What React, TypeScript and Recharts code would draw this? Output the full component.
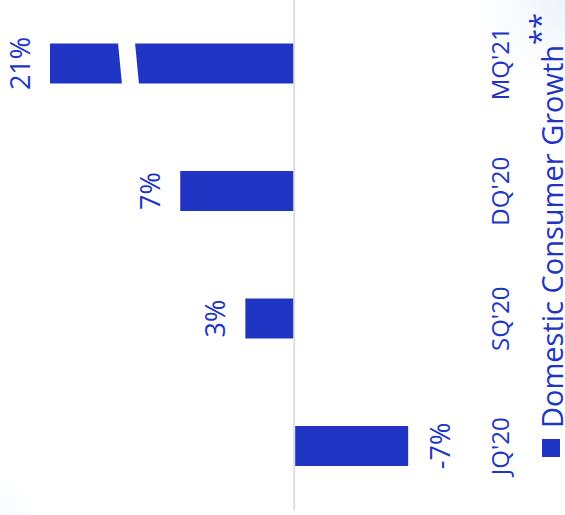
import { Bar, BarChart, LabelList, ReferenceLine, XAxis, YAxis } from 'recharts'

const quarters = ["JQ'20", "SQ'20", "DQ'20", "MQ'21"]
const growth = [-7, 3, 7, 21]
const seriesName = 'Domestic Consumer Growth'

// value axis is cut at axisMax, anything taller gets a break mark
const axisMin = -10
const axisMax = 15

const BLUE = '#2135c5'
const FONT = '"Open Sans", sans-serif'

const data = quarters.map((quarter, i) => ({
  quarter,
  growth: growth[i],
  shown: Math.min(growth[i], axisMax),
}))

function BrokenBar(props: any) {
  const { x, y, width, height, payload, fill } = props
  const top = Math.min(y, y + height)
  const h = Math.abs(height)
  return (
    <g>
      <rect x={x} y={top} width={width} height={h} fill={fill} />
      {payload.growth > axisMax && (
        <polygon
          points={`${x - 1},${top + 72} ${x - 1},${top + 89} ${x + width + 1},${top + 85} ${x + width + 1},${top + 68}`}
          fill="#fff"
        />
      )}
    </g>
  )
}

function ValueLabel(props: any) {
  const { x, y, width, height, value } = props
  const top = Math.min(y, y + height)
  const bottom = Math.max(y, y + height)
  const ty = value >= 0 ? top - 20 : bottom + 42
  return (
    <text x={x + width / 2} y={ty} textAnchor="middle" fill={BLUE} fontSize={27} fontFamily={FONT}>
      {`${value}%`}
    </text>
  )
}

// plain html legend: the recharts one measures itself after the rotation and gets it wrong
function LegendBox() {
  return (
    <div
      style={{
        position: 'absolute',
        left: 5,
        top: 520,
        width: 510,
        height: 45,
        fontFamily: FONT,
        color: BLUE,
      }}
    >
      <span
        style={{ position: 'absolute', left: 53, top: 22, width: 18, height: 18, background: BLUE }}
      />
      <span
        style={{
          position: 'absolute',
          left: 82,
          top: 21,
          fontSize: 29,
          lineHeight: '22px',
          whiteSpace: 'nowrap',
        }}
      >
        {seriesName}
        <span style={{ position: 'relative', top: -12 }}>**</span>
      </span>
    </div>
  )
}

export default function App() {
  return (
    <div
      style={{
        position: 'absolute',
        left: 0,
        top: 0,
        width: 565,
        height: 515,
        overflow: 'hidden',
        background:
          'radial-gradient(circle at 100% 0%, #eef3fb 0, rgba(255,255,255,0) 90px), radial-gradient(circle at 0% 100%, #f8fafd 0, rgba(255,255,255,0) 40px), #fff',
      }}
    >
      {/* chart is drawn upright and turned a quarter turn to the left */}
      <div
        style={{
          position: 'absolute',
          left: 0,
          top: 515,
          width: 515,
          height: 565,
          transform: 'rotate(-90deg)',
          transformOrigin: '0 0',
        }}
      >
        <BarChart width={515} height={565} data={data} margin={{ top: 50, right: 0, bottom: 45, left: 5 }}>
          <XAxis
            dataKey="quarter"
            height={63}
            axisLine={false}
            tickLine={false}
            tickSize={0}
            tickMargin={35}
            interval={0}
            tick={{ fill: BLUE, fontSize: 24, fontFamily: FONT }}
          />
          <YAxis hide domain={[axisMin, axisMax]} />
          <ReferenceLine y={0} stroke="#dedede" strokeWidth={2} />
          <Bar
            dataKey="shown"
            name={seriesName}
            fill={BLUE}
            barSize={40}
            shape={<BrokenBar />}
            isAnimationActive={false}
          >
            <LabelList dataKey="growth" content={<ValueLabel />} />
          </Bar>
        </BarChart>
        <LegendBox />
      </div>
    </div>
  )
}
